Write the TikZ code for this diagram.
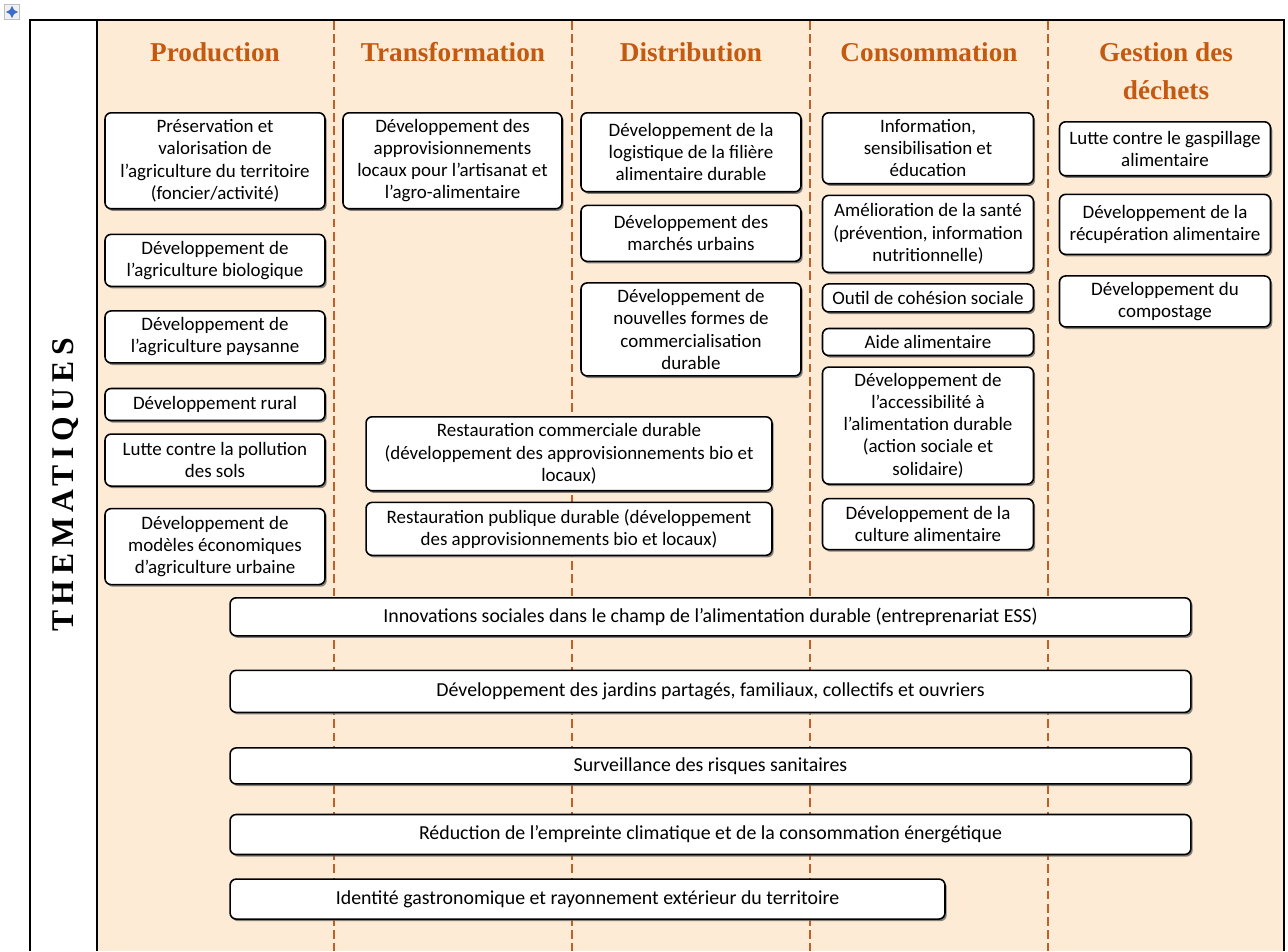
\documentclass[tikz,border=0pt]{standalone}
\usepackage{fontspec}
\setmainfont{Carlito}
\newfontfamily\headfont{Liberation Serif}
\newfontfamily\spacedfont[LetterSpace=18]{Liberation Serif}
\usepackage{xcolor}
\definecolor{peach}{RGB}{253,235,213}
\definecolor{headorange}{RGB}{196,89,17}
\definecolor{dashline}{RGB}{190,96,40}
\definecolor{handleblue}{RGB}{60,110,200}
\usepackage{tikz}
\usetikzlibrary{arrows, positioning, shadows}
\tikzstyle{theme} = [rectangle, draw, line width=0.9pt, fill=white, rounded corners=3.5pt, align=center, inner xsep=2pt, inner ysep=1.5pt, font=\fontsize{10.8}{12.6}\selectfont, drop shadow={shadow xshift=1pt, shadow yshift=-1.2pt, fill=black!60, opacity=0.8}]
\tikzstyle{colbox} = [theme, minimum width=4.4cm]
\tikzstyle{narrowbox} = [theme, minimum width=4.22cm]
\tikzstyle{restobox} = [theme, minimum width=8.12cm]
\tikzstyle{widebar} = [theme, minimum width=19.22cm, font=\fontsize{11.3}{13}\selectfont]
\tikzstyle{colhead} = [text=headorange, font=\headfont\bfseries\fontsize{15.5}{21.5}\selectfont, align=center]
\tikzstyle{divider} = [dashline, line width=1pt, dash pattern=on 5pt off 2.5pt]
\tikzstyle{movearrow} = [handleblue, line width=0.6pt, <->, >=stealth]

\begin{document}
\begin{tikzpicture}[x=0.02cm, y=-0.02cm]
    \useasboundingbox (0,0) rectangle (1288,951);
    \fill[peach] (97,20) rectangle (1284,951);
    \draw[line width=1.1pt] (30,951) -- (30,20) -- (1284,20) -- (1284,951);
    \draw[line width=1.1pt] (97,20) -- (97,951);
    \foreach \x in {334,572,810,1048}
        \draw[divider] (\x,21) -- (\x,951);

    \node[draw=gray!50, fill=gray!12, minimum size=0.3cm, inner sep=0pt] (handle) at (12,12) {};
    \draw[movearrow] ([xshift=1pt]handle.west) -- ([xshift=-1pt]handle.east);
    \draw[movearrow] ([yshift=-1pt]handle.north) -- ([yshift=1pt]handle.south);

    \node[rotate=90, font=\spacedfont\bfseries\fontsize{18}{21}\selectfont] (thema) at (66,485) {THEMATIQUES};

    \node[colhead] (hprod) at (215,52) {Production};
    \node[colhead] (htrans) at (453,52) {Transformation};
    \node[colhead] (hdist) at (691,52) {Distribution};
    \node[colhead] (hcons) at (929,52) {Consommation};
    \node[colhead] (hdechets) at (1166,71) {Gestion des\\déchets};

    \node[colbox, anchor=north, minimum height=1.92cm] (preserv) at (215,112) {Préservation et\\valorisation de\\l’agriculture du territoire\\(foncier/activité)};
    \node[colbox, minimum height=1.04cm, below=0.48cm of preserv] (bio) {Développement de\\l’agriculture biologique};
    \node[colbox, minimum height=1.04cm, below=0.46cm of bio] (paysanne) {Développement de\\l’agriculture paysanne};
    \node[colbox, minimum height=0.64cm, below=0.48cm of paysanne] (rural) {Développement rural};
    \node[colbox, minimum height=1.04cm, below=0.24cm of rural] (pollution) {Lutte contre  la pollution\\des sols};
    \node[colbox, minimum height=1.52cm, below=0.42cm of pollution] (urbaine) {Développement de\\modèles économiques\\d’agriculture urbaine};

    \node[colbox, anchor=north, minimum width=4.38cm, minimum height=1.92cm] (appro) at (452.5,112) {Développement des\\approvisionnements\\locaux pour l’artisanat et\\l’agro-alimentaire};

    \node[colbox, anchor=north, minimum height=1.58cm] (logist) at (691,112) {Développement de la\\logistique de la filière\\alimentaire durable};
    \node[colbox, minimum height=1.12cm, below=0.24cm of logist] (marches) {Développement des\\marchés urbains};
    \node[colbox, minimum height=1.86cm, below=0.4cm of marches] (formes) {Développement de\\nouvelles formes de\\commercialisation\\durable};

    \node[restobox, anchor=north, minimum height=1.48cm] (restocom) at (569,416) {Restauration  commerciale  durable\\(développement des approvisionnements bio et\\locaux)};
    \node[restobox, minimum height=1.06cm, below=0.2cm of restocom] (restopub) {Restauration  publique durable (développement\\des approvisionnements bio et locaux)};

    \node[narrowbox, anchor=north, minimum height=1.42cm] (info) at (928,112) {Information,\\sensibilisation et\\éducation};
    \node[narrowbox, minimum height=1.54cm, below=0.2cm of info] (sante) {Amélioration  de la santé\\(prévention, information\\nutritionnelle)};
    \node[narrowbox, minimum height=0.56cm, below=0.2cm of sante] (cohesion) {Outil de cohésion sociale};
    \node[narrowbox, minimum height=0.54cm, below=0.3cm of cohesion] (aide) {Aide alimentaire};
    \node[narrowbox, minimum height=2.34cm, below=0.2cm of aide] (acces) {Développement de\\l’accessibilité à\\l’alimentation durable\\(action sociale et\\solidaire)};
    \node[narrowbox, minimum height=1.02cm, below=0.26cm of acces] (culture) {Développement de la\\culture alimentaire};

    \node[narrowbox, anchor=north, minimum height=1.08cm] (gaspi) at (1165,121) {Lutte contre  le gaspillage\\alimentaire};
    \node[narrowbox, minimum height=1.2cm, below=0.34cm of gaspi] (recup) {Développement de la\\récupération alimentaire};
    \node[narrowbox, minimum height=1.02cm, below=0.4cm of recup] (compost) {Développement du\\compostage};

    \node[widebar, anchor=north, minimum height=0.76cm] (innov) at (710.5,597) {Innovations sociales dans le champ de l’alimentation durable (entreprenariat ESS)};
    \node[widebar, minimum height=0.84cm, below=0.66cm of innov] (jardins) {Développement des jardins partagés, familiaux, collectifs  et ouvriers};
    \node[widebar, minimum height=0.72cm, below=0.68cm of jardins] (surveil) {Surveillance des risques sanitaires};
    \node[widebar, minimum height=0.8cm, below=0.58cm of surveil] (reduc) {Réduction de l’empreinte climatique et de la consommation  énergétique};
    \node[widebar, minimum width=14.3cm, minimum height=0.8cm, below right=0.46cm and 0cm of reduc.south west, anchor=north west] (identite) {Identité gastronomique et rayonnement extérieur du territoire};
\end{tikzpicture}
\end{document}
